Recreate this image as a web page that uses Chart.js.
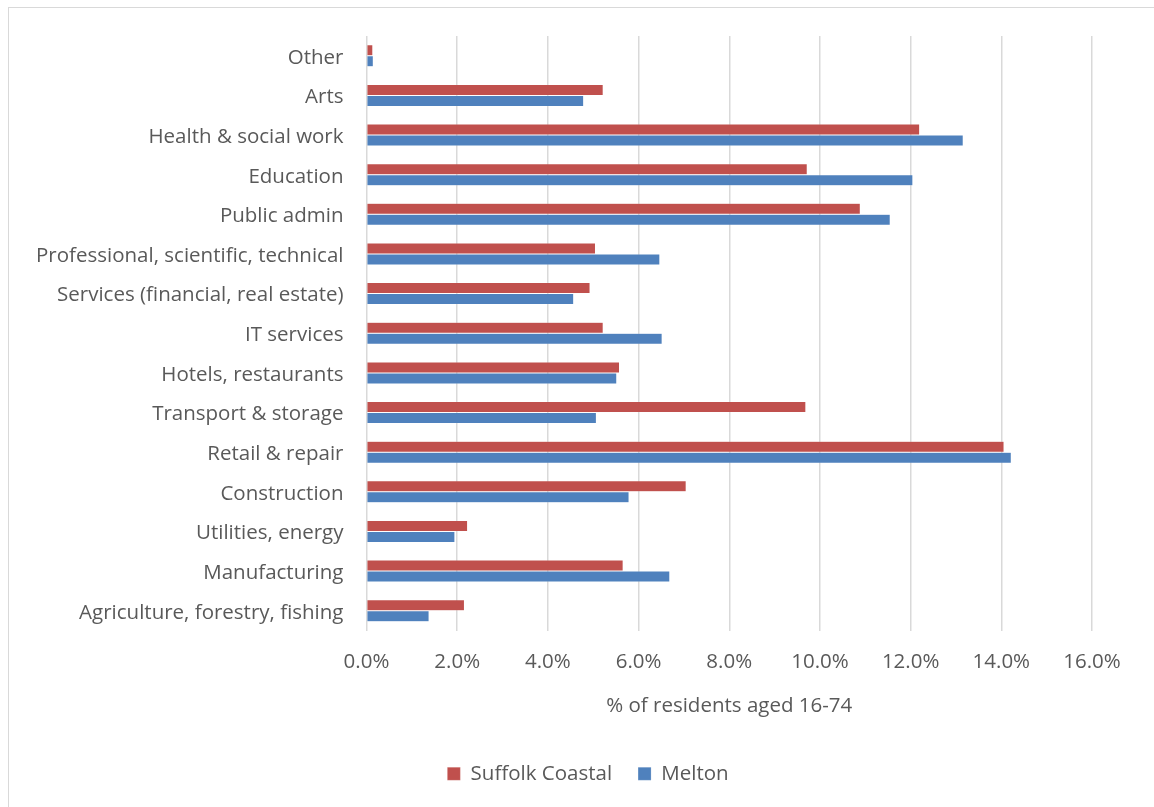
<!DOCTYPE html>
<html>
<head>
<meta charset="utf-8">
<script src="https://cdn.jsdelivr.net/npm/chart.js@4"></script>
<style>
  body { margin: 0; background: #fff; }
  canvas { display: block; }
</style>
</head>
<body>
<canvas id="industry" width="1154" height="807"></canvas>
<script>
var ctx = document.getElementById('industry')

const industries = ['Other', 'Arts', 'Health & social work', 'Education', 'Public admin',
  'Professional, scientific, technical', 'Services (financial, real estate)', 'IT services',
  'Hotels, restaurants', 'Transport & storage', 'Retail & repair', 'Construction',
  'Utilities, energy', 'Manufacturing', 'Agriculture, forestry, fishing']
const suffolkCoastal = [0.14, 5.22, 12.20, 9.72, 10.89, 5.05, 4.93, 5.22, 5.58, 9.69, 14.06, 7.05, 2.23, 5.66, 2.16]
const melton = [0.15, 4.79, 13.16, 12.05, 11.55, 6.47, 4.57, 6.52, 5.52, 5.07, 14.22, 5.79, 1.95, 6.69, 1.38]
const xTicks = [0, 2, 4, 6, 8, 10, 12, 14, 16]

const font = { family: 'Open Sans', size: 20.5 }
const grey = '#595959'

// frame round the whole chart, and nudge the legend so it sits under the middle of the frame
const frame = {
  id: 'frame',
  afterLayout(chart) {
    chart.legend.left += 42
    chart.legend.right += 42
  },
  beforeDraw(chart) {
    const c = chart.ctx
    c.save()
    c.fillStyle = '#fff'
    c.fillRect(0, 0, chart.width, chart.height)
    c.strokeStyle = '#d9d9d9'
    c.lineWidth = 1
    c.strokeRect(8.5, 7.5, 1150, 805)
    c.restore()
  }
}

var myChart = new Chart(ctx, {
  type: 'bar',
  data: {
    labels: industries,
    datasets: [{
      label: 'Suffolk Coastal',
      data: suffolkCoastal,
      backgroundColor: '#C0504D',
      borderColor: 'rgba(255,255,255,0.35)',
      borderWidth: 0.5
    }, {
      label: 'Melton',
      data: melton,
      backgroundColor: '#4F81BD',
      borderColor: 'rgba(255,255,255,0.35)',
      borderWidth: 0.5
    }]
  },
  options: {
    indexAxis: 'y',
    responsive: false,
    animation: false,
    datasets: { bar: { categoryPercentage: 0.555, barPercentage: 1 } },
    layout: { padding: { left: 0, right: 62, top: 36, bottom: 13 } },
    plugins: {
      legend: {
        position: 'bottom',
        labels: { font: font, color: grey, boxWidth: 13, boxHeight: 13, padding: 26 }
      },
      tooltip: { enabled: false }
    },
    scales: {
      x: {
        min: 0,
        max: 16,
        afterBuildTicks: scale => { scale.ticks = xTicks.map(v => ({ value: v })) },
        grid: { color: '#d9d9d9', lineWidth: 1.5, drawTicks: false },
        border: { display: false },
        ticks: { font: font, color: grey, padding: 19, callback: v => v.toFixed(1) + '%' },
        title: { display: true, text: '% of residents aged 16-74', font: font, color: grey, padding: { top: 8, bottom: 19 } },
        afterFit: scale => { scale.height = 107 }
      },
      y: {
        grid: { display: false },
        border: { display: false },
        ticks: { font: font, color: grey, padding: 15, autoSkip: false, labelOffset: 2 },
        afterFit: scale => { scale.width = 366.5 }
      }
    }
  },
  plugins: [frame]
})
</script>
</body>
</html>
